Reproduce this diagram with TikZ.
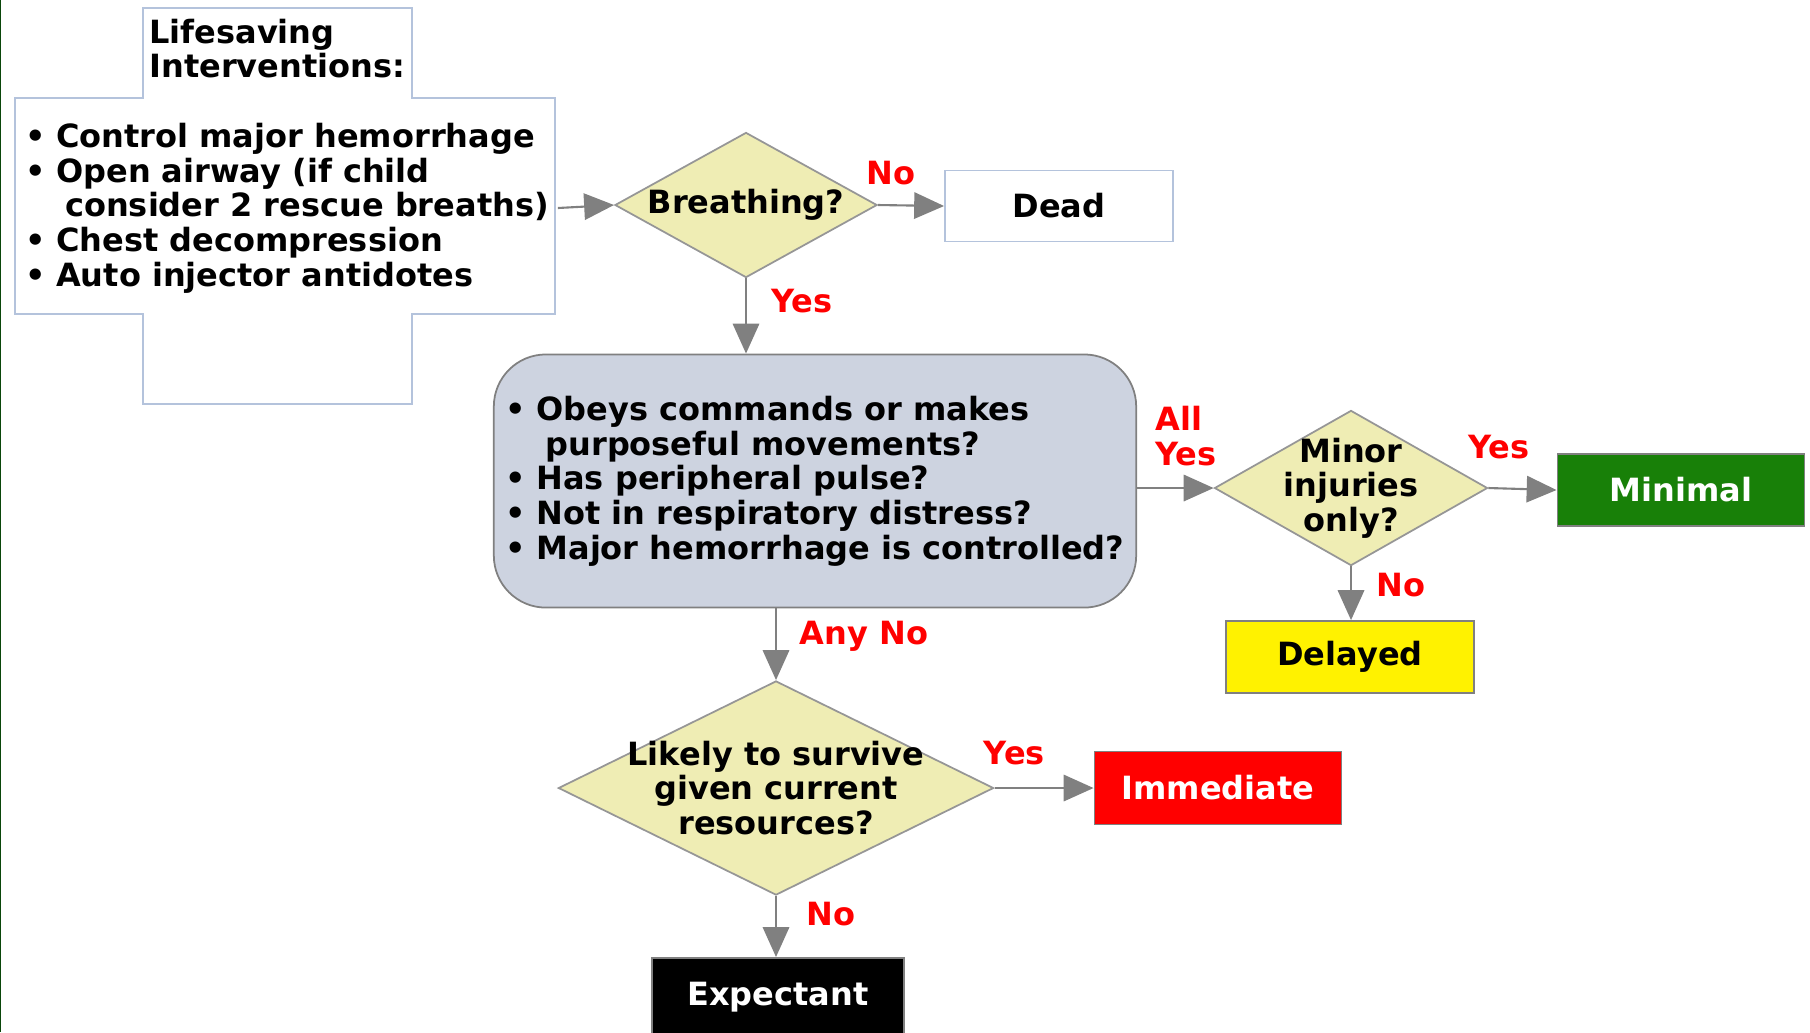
\documentclass[tikz,border=0pt]{standalone}
\usepackage{fontspec}
\setmainfont{DejaVu Sans}
\usetikzlibrary{shapes.geometric,arrows.meta,positioning,backgrounds}

\definecolor{decfill}{RGB}{239,237,180}
\definecolor{decline}{RGB}{150,150,150}
\definecolor{boxline}{RGB}{180,195,220}
\definecolor{qfill}{RGB}{205,211,224}
\definecolor{qline}{RGB}{128,128,128}
\definecolor{arrowgray}{RGB}{128,128,128}
\definecolor{mingreen}{RGB}{24,128,8}
\definecolor{edgegreen}{RGB}{10,70,10}

\newcommand{\bul}{\makebox[3.1mm][l]{\textbullet}}
\newcommand{\cont}{\hspace*{4mm}}

\begin{document}
\begin{tikzpicture}[
    x=0.01cm, y=-0.01cm,
    every node/.style={font=\fontsize{9.1}{9.85}\selectfont\bfseries},
    decision/.style={diamond, draw=decline, fill=decfill, align=center, line width=0.5pt},
    outcome/.style={rectangle, draw=qline, minimum width=2.48cm, minimum height=0.72cm, line width=0.5pt},
    plain/.style={rectangle, draw=boxline, fill=white, minimum width=2.28cm, minimum height=0.71cm, line width=0.5pt},
    checks/.style={rectangle, rounded corners=0.52cm, draw=qline, fill=qfill, minimum width=6.38cm, minimum height=2.53cm, align=left, line width=0.5pt},
    lbl/.style={text=red, inner sep=0pt},
    arrow/.style={-{Triangle[length=8.5pt,width=7.5pt]}, draw=arrowgray, line width=0.6pt}
]
\useasboundingbox (0,0) rectangle (1810,1032);
\fill[edgegreen] (0,0) rectangle (1.5,1032);

% Lifesaving interventions
\node[align=left, anchor=north west] (title) at (137,6.5) {Lifesaving\\Interventions:};
\node[align=left, inner xsep=1pt, minimum width=5.4cm, minimum height=2.16cm] (interv) at (287,208)
    {\bul Control major hemorrhage\\ \bul Open airway (if child\\ \cont consider 2 rescue breaths)\\ \bul Chest decompression\\ \bul Auto injector antidotes};

% Decisions and outcomes
\node[decision, aspect=1.8, inner sep=0pt, minimum width=2.62cm, minimum height=1.45cm] (breath) at (746,205) {Breathing?};
\node[plain] (dead) at (1059,206) {Dead};
\node[checks] (checks) at (815,481)
    {\bul Obeys commands or makes\\ \cont purposeful movements?\\ \bul Has peripheral pulse?\\ \bul Not in respiratory distress?\\ \bul Major hemorrhage is controlled?};
\node[decision, aspect=1.76, inner sep=-2pt, minimum width=2.64cm, minimum height=1.5cm] (minor) at (1351,488) {Minor\\injuries\\only?};
\node[outcome, fill=mingreen, text=white, minimum width=2.47cm] (minimal) at (1681,490) {Minimal};
\node[outcome, fill=yellow] (delayed) at (1350,657) {Delayed};
\node[decision, aspect=2, inner sep=-3.5pt, minimum width=4.35cm, minimum height=2.14cm] (likely) at (776,788) {Likely to survive\\given current\\resources?};
\node[outcome, fill=red, text=white, minimum width=2.47cm, minimum height=0.73cm] (immediate) at (1218,788) {Immediate};
\node[outcome, fill=black, text=white, minimum width=2.52cm, minimum height=0.78cm, anchor=north] (expectant) at (778,957) {Expectant};

% Arrows
\draw[arrow] (interv.east) -- (breath.west);
\draw[arrow] (breath.east) -- (dead.west) node[lbl, pos=0.2, above=5.4pt] {No};
\draw[arrow] (breath.south) -- (breath.south |- checks.north) node[lbl, pos=0.3, right=7pt] {Yes};
\draw[arrow] (checks.east |- minor.west) -- (minor.west) node[lbl, pos=0, anchor=south west, align=left, xshift=5pt, yshift=6pt] {All\\Yes};
\draw[arrow] (minor.east) -- (minimal.west) node[lbl, pos=0.15, above=8pt] {Yes};
\draw[arrow] (minor.south) -- (minor.south |- delayed.north) node[lbl, pos=0.34, right=7pt] {No};
\draw[arrow] (likely.north |- checks.south) -- (likely.north) node[lbl, pos=0.39, right=6.5pt] {Any No};
\draw[arrow] (likely.east) -- (likely.east -| immediate.west) node[lbl, pos=0.2, above=6.2pt] {Yes};
\draw[arrow] (likely.south) -- (likely.south |- expectant.north) node[lbl, pos=0.3, right=8.5pt] {No};

% Cross outline
\begin{scope}[on background layer]
    \draw[draw=boxline, fill=white, line width=0.5pt] (143,8) -- (412,8) -- (412,98) -- (555,98) -- (555,314) -- (412,314) -- (412,404) -- (143,404) -- (143,314) -- (15,314) -- (15,98) -- (143,98) -- cycle;
\end{scope}

\end{tikzpicture}
\end{document}
